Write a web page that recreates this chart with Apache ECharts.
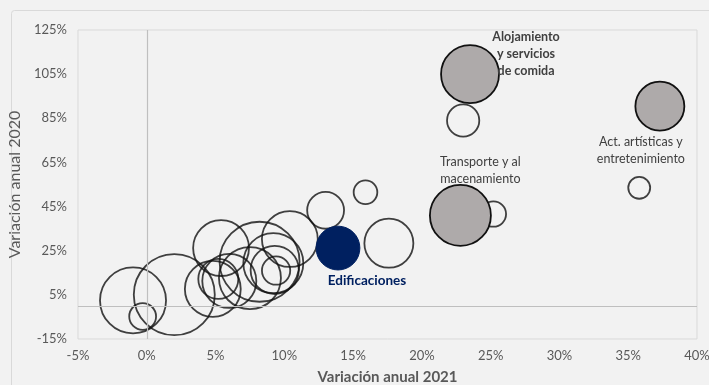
<!DOCTYPE html>
<html>
<head>
<meta charset="utf-8">
<script src="https://cdn.jsdelivr.net/npm/echarts@6/dist/echarts.min.js"></script>
<style>html,body{margin:0;padding:0;background:#f2f2f2;}#c{width:709px;height:385px;}</style>
</head>
<body>
<div id="c"></div>
<script>
// Highlighted sectors (gray)
const destacadosNombres = ['Alojamiento\ny servicios\nde comida', 'Transporte y al\nmacenamiento', 'Act. artísticas y\nentretenimiento'];
const destacadosX2021 = [23.5, 22.8, 37.3];
const destacadosY2020 = [105, 41, 90.5];
const destacadosPeso = [84, 93, 60];

// Edificaciones (navy)
const edifNombre = 'Edificaciones';
const edifX2021 = [13.9];
const edifY2020 = [26.2];
const edifPeso = [48];

// Other sectors (outline only)
const otrosX2021 = [23.0, 35.8, 25.2, 17.6, 15.9, 13.0, -1.0, -0.3, 2.0, 5.4, 8.2, 10.4, 9.2, 9.4, 9.3, 7.5, 5.2, 6.0, 4.8];
const otrosY2020 = [84, 53.5, 41.6, 28.4, 51.5, 43.3, 2.5, -4.8, 5.1, 26.2, 20, 30.3, 19.4, 16.0, 16.3, 12.6, 12.2, 11.3, 7.7];
const otrosPeso  = [26, 12, 16, 60, 14, 34, 109, 18, 164, 78, 160, 78, 90, 20, 58, 96, 40, 73, 78];

const xTicks = {min: -5, max: 40, interval: 5};
const yTicks = {min: -15, max: 125, interval: 20};

const sizeFn = v => 2 * Math.sqrt(10 * v[2]);
const FONT = 'Lato, "Open Sans", sans-serif';

const otrosData = otrosX2021.map((x, i) => [x, otrosY2020[i], otrosPeso[i]]);
const destLabelOffsets = [[56, -20], [20, -45], [-19, 44]];
const destData = destacadosX2021.map((x, i) => ({
  value: [x, destacadosY2020[i], destacadosPeso[i]],
  name: destacadosNombres[i],
  label: {
    show: true, position: 'inside', offset: destLabelOffsets[i],
    formatter: '{b}', color: '#404040', fontSize: 12.5, lineHeight: 17,
    fontFamily: FONT, fontWeight: i === 0 ? 'bold' : 'normal', align: 'center'
  }
}));
const edifData = edifX2021.map((x, i) => ({
  value: [x, edifY2020[i], edifPeso[i]],
  name: edifNombre,
  label: {
    show: true, position: 'inside', offset: [29, 33], formatter: '{b}',
    color: '#002060', fontSize: 13.5, fontWeight: 'bold', fontFamily: FONT
  }
}));

const chart = echarts.init(document.getElementById('c'), null, {renderer: 'canvas'});
chart.setOption({
  backgroundColor: '#f2f2f2',
  animation: false,
  graphic: [{
    type: 'rect', left: 9, top: 8, z: -1,
    shape: {width: 730, height: 400, r: 3},
    style: {fill: 'none', stroke: '#d9d9d9', lineWidth: 1}
  }],
  grid: {left: 78, right: 12, top: 30, bottom: 46, show: true, borderColor: '#d9d9d9', borderWidth: 1,
         backgroundColor: 'transparent', containLabel: false, outerBoundsMode: 'none'},
  xAxis: {
    type: 'value', min: xTicks.min, max: xTicks.max, interval: xTicks.interval,
    name: 'Variación anual 2021', nameLocation: 'middle', nameGap: 31,
    nameTextStyle: {color: '#595959', fontSize: 15, fontWeight: 'bold', fontFamily: FONT},
    axisLine: {show: false}, axisTick: {show: false}, splitLine: {show: false},
    axisLabel: {formatter: '{value}%', color: '#595959', fontSize: 13, fontFamily: FONT, margin: 10}
  },
  yAxis: {
    type: 'value', min: yTicks.min, max: yTicks.max, interval: yTicks.interval,
    name: 'Variación anual 2020', nameLocation: 'middle', nameGap: 45,
    nameTextStyle: {color: '#595959', fontSize: 16, fontFamily: FONT},
    axisLine: {show: false}, axisTick: {show: false}, splitLine: {show: false},
    axisLabel: {formatter: '{value}%', color: '#595959', fontSize: 13, fontFamily: FONT, margin: 11}
  },
  series: [
    {
      type: 'scatter', data: otrosData, symbolSize: sizeFn,
      itemStyle: {color: 'rgba(0,0,0,0)', borderColor: '#111', borderWidth: 1.8},
      markLine: {
        silent: true, symbol: 'none', label: {show: false},
        lineStyle: {color: '#bfbfbf', type: 'solid', width: 1.2},
        data: [{xAxis: 0}, {yAxis: 0}]
      },
      z: 3
    },
    {
      type: 'scatter', data: destData, symbolSize: sizeFn,
      itemStyle: {color: '#aeaaaa', borderColor: '#111', borderWidth: 1.8, opacity: 1},
      z: 4
    },
    {
      type: 'scatter', data: edifData, symbolSize: sizeFn,
      itemStyle: {color: '#002060', borderColor: '#002060', borderWidth: 1, opacity: 1},
      z: 5
    }
  ]
});
</script>
</body>
</html>
